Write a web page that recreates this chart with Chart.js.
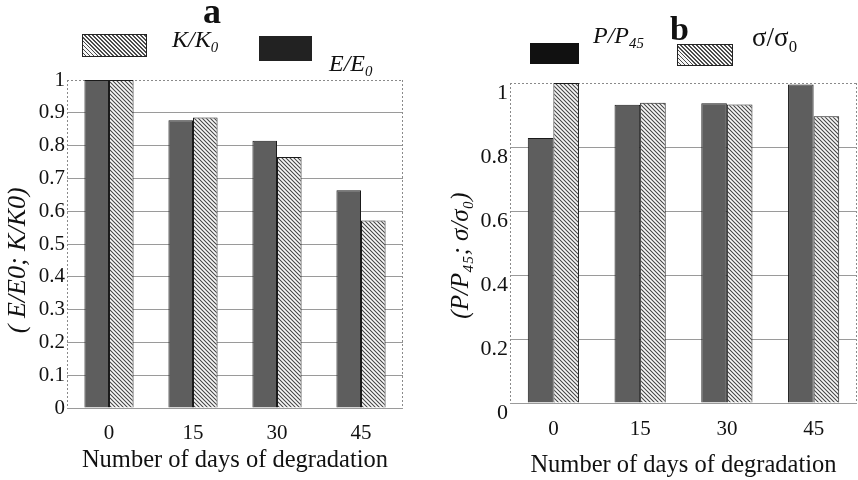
<!DOCTYPE html>
<html><head><meta charset="utf-8">
<script src="https://cdn.jsdelivr.net/npm/chart.js@4/dist/chart.umd.min.js"></script>
<style>
html,body{margin:0;padding:0;background:#fff;}
#wrap{position:relative;width:858px;height:480px;overflow:hidden;background:#fff;font-family:"Liberation Serif","Times New Roman",serif;color:#111;}
#c1{position:absolute;left:0;top:0;}
#c2{position:absolute;left:440px;top:0;}
.box{position:absolute;box-sizing:border-box;}
.hatch{border:1.5px solid #222;background:repeating-linear-gradient(45deg,#f6f6f6 0 1.5px,#4a4a4a 1.5px 2.8px);}
.dark{background:#222;}
.lbl{position:absolute;white-space:nowrap;}
.lbl sub{font-size:0.62em;vertical-align:-0.35em;line-height:0;}
</style></head>
<body>
<div id="wrap">
<canvas id="c1" width="440" height="480"></canvas>
<canvas id="c2" width="418" height="480"></canvas>
<div class="lbl" style="left:203px;top:-7px;font-size:36px;line-height:36px;font-weight:bold;">a</div>
<div class="box hatch" style="left:82px;top:34px;width:65px;height:23px;"></div>
<div class="lbl" style="left:172px;top:27px;font-size:24px;line-height:24px;font-style:italic;">K/K<sub>0</sub></div>
<div class="box dark" style="left:259px;top:36px;width:53px;height:25px;"></div>
<div class="lbl" style="left:329px;top:51px;font-size:24px;line-height:24px;font-style:italic;">E/E<sub>0</sub></div>

<div class="box dark" style="left:530px;top:43px;width:49px;height:21px;background:#111;"></div>
<div class="lbl" style="left:593px;top:23px;font-size:24px;line-height:24px;font-style:italic;">P/P<sub>45</sub></div>
<div class="lbl" style="left:670px;top:12px;font-size:34px;line-height:34px;font-weight:bold;">b</div>
<div class="box hatch" style="left:677px;top:44px;width:56px;height:22px;"></div>
<div class="lbl" style="left:752px;top:24px;font-size:27px;line-height:27px;">σ/σ<sub>0</sub></div>
</div>
<script>
const categories = ['0', '15', '30', '45'];
const eRatio = [1.0, 0.877, 0.815, 0.664];    // E/E0 (panel a, dark)
const kRatio = [1.0, 0.886, 0.765, 0.572];    // K/K0 (panel a, hatched)
const pRatio = [0.828, 0.932, 0.937, 0.995];  // P/P45 (panel b, dark)
const sRatio = [1.0, 0.938, 0.933, 0.896];    // sigma/sigma0 (panel b, hatched)
const xTitle = 'Number of days of degradation';
const yTitleA = '( E/E0; K/K0)';
const yTitleB = '(P/P\u2084\u2085; \u03c3/\u03c3\u2080)';

const SERIF = '"Liberation Serif","Times New Roman",serif';
const NB = '\u00a0';

function hatch() {
  const c = document.createElement('canvas'); c.width = 4; c.height = 4;
  const x = c.getContext('2d');
  x.fillStyle = '#f8f8f8'; x.fillRect(0, 0, 4, 4);
  x.strokeStyle = '#444'; x.lineWidth = 1.05;
  x.beginPath();
  x.moveTo(-1, -1); x.lineTo(5, 5);
  x.moveTo(-1, 3); x.lineTo(1, 5);
  x.moveTo(3, -1); x.lineTo(5, 1);
  x.stroke();
  return x.createPattern(c, 'repeat');
}

const frame = {
  id: 'frame',
  beforeDatasetsDraw(chart) {
    const { ctx, chartArea: a } = chart;
    ctx.save();
    ctx.strokeStyle = '#8a8a8a'; ctx.lineWidth = 1; ctx.setLineDash([2, 2]);
    ctx.beginPath();
    ctx.moveTo(a.left, a.top + 0.5); ctx.lineTo(a.right, a.top + 0.5);
    ctx.moveTo(a.right - 0.5, a.top); ctx.lineTo(a.right - 0.5, a.bottom);
    ctx.moveTo(a.left + 0.5, a.top); ctx.lineTo(a.left + 0.5, a.bottom);
    ctx.stroke();
    ctx.restore();
  }
};

function makeChart(canvas, darkData, hatchData, darkLabel, hatchLabel, cfg) {
  return new Chart(canvas, {
    type: 'bar',
    data: {
      labels: categories,
      datasets: [
        { label: darkLabel, data: darkData, backgroundColor: '#5e5e5e', borderColor: '#1a1a1a', borderWidth: 1 },
        { label: hatchLabel, data: hatchData, backgroundColor: hatch(), borderColor: '#1a1a1a', borderWidth: 1 }
      ]
    },
    options: {
      responsive: false, animation: false, devicePixelRatio: 1,
      layout: { padding: cfg.padding },
      plugins: { legend: { display: false }, tooltip: { enabled: false } },
      datasets: { bar: { categoryPercentage: cfg.catPct, barPercentage: 1 } },
      scales: {
        x: {
          grid: { display: false }, border: { display: false },
          ticks: { font: { family: SERIF, size: 21 }, color: '#111', padding: cfg.xTickPad },
          title: { display: true, text: xTitle, font: { family: SERIF, size: 24.5 }, color: '#111', padding: { top: 0, bottom: cfg.xTitlePad } },
          afterFit(s) { s.height = cfg.xHeight; }
        },
        y: {
          min: 0, max: 1,
          ticks: { stepSize: cfg.step, font: { family: SERIF, size: cfg.yTickSize }, color: '#111', padding: 2, labelOffset: cfg.labelOffset,
                   callback: v => String(+(+v).toFixed(1)) },
          grid: { color: c => (c.tick && c.tick.value >= 0.999) ? 'rgba(0,0,0,0)' : '#9a9a9a', drawTicks: false, lineWidth: 1 },
          border: { display: false },
          title: { display: true, text: cfg.yTitle, font: { family: SERIF, size: cfg.yTitleSize, style: 'italic' }, color: '#111', padding: { top: cfg.yTitlePad, bottom: 0 } },
          afterFit(s) { s.width = cfg.yWidth; }
        }
      }
    },
    plugins: [frame]
  });
}

makeChart(document.getElementById('c1'), eRatio, kRatio, 'E/E0', 'K/K0', {
  padding: { top: 80, right: 37, left: 0, bottom: 0 },
  catPct: 0.585, xTickPad: 5, xTitlePad: 5, xHeight: 72,
  step: 0.1, yTickSize: 21, labelOffset: 0,
  yTitle: yTitleA + NB.repeat(5), yTitleSize: 26, yTitlePad: 3, yWidth: 67
});
makeChart(document.getElementById('c2'), pRatio, sRatio, 'P/P45', '\u03c3/\u03c30', {
  padding: { top: 83, right: 1, left: 0, bottom: 0 },
  catPct: 0.59, xTickPad: 6, xTitlePad: 0, xHeight: 77,
  step: 0.2, yTickSize: 22, labelOffset: 10,
  yTitle: yTitleB + NB.repeat(4), yTitleSize: 25, yTitlePad: 6, yWidth: 70
});
</script>
</body></html>
